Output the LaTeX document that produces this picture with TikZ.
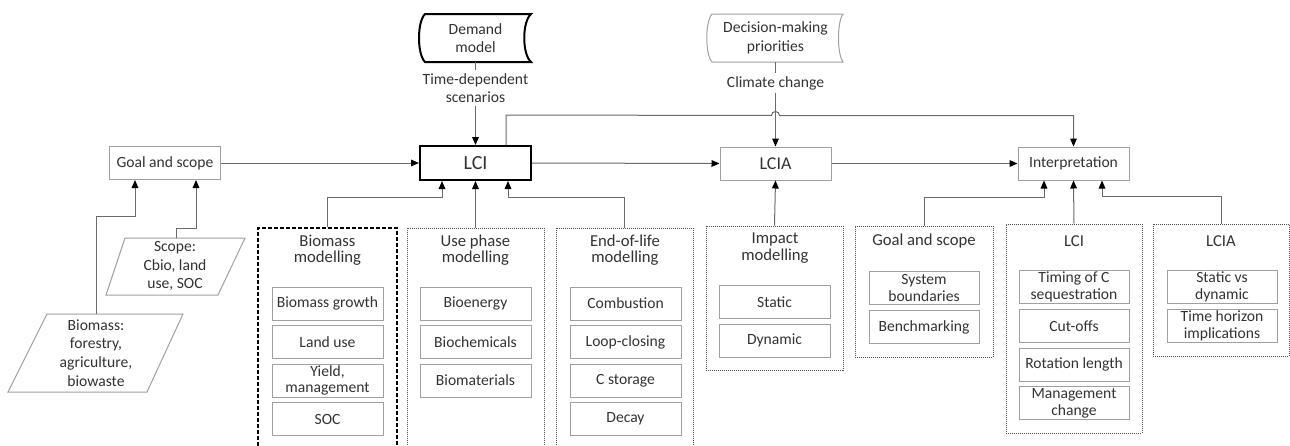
\documentclass[tikz,border=0pt]{standalone}
\usepackage{fontspec}
\setmainfont{Carlito}
\usetikzlibrary{arrows.meta,calc}
\definecolor{txt}{HTML}{333333}
\definecolor{lineg}{HTML}{6A6A6A}
\definecolor{bgray}{HTML}{A0A0A0}
\definecolor{dgray}{HTML}{505050}
\newcommand{\fsn}{\fontsize{11.7}{12.5}\selectfont}
\newcommand{\fsl}{\fontsize{11.7}{14}\selectfont}
\newcommand{\fsh}{\fontsize{12.5}{12.3}\selectfont}
\begin{document}
\begin{tikzpicture}[x=0.75pt,y=-0.75pt,
  every node/.style={text=txt},
  mainbox/.style={draw=bgray, line width=0.75pt, minimum width=83.25pt, minimum height=24.75pt, font=\fsn, inner sep=0pt},
  ib/.style={draw=bgray, line width=0.75pt, minimum width=82.5pt, minimum height=24.75pt, font=\fsn, align=center, inner sep=0pt},
  cont/.style={draw=dgray, line width=0.75pt, dash pattern=on 0.75pt off 0.75pt, inner sep=0pt},
  contthick/.style={draw=black, line width=1.6pt, dash pattern=on 3pt off 1.5pt, inner sep=0pt},
  head/.style={font=\fsh, align=center, inner sep=0pt},
  lbl/.style={font=\fsl, align=center, inner sep=2pt},
  para/.style={font=\fsl, align=center, inner sep=0pt},
  cn/.style={draw=lineg, line width=0.75pt},
  arr/.style={cn, -{Triangle[length=6pt,width=5pt,color=black]}}
]
\fill[white] (0,0) rectangle (1290,446);
\useasboundingbox (0,0) rectangle (1290,446);

% top shapes
\draw[line width=1.5pt] (425,14) -- (531,14) .. controls (522,22) and (522,54) .. (531,62) -- (425,62) .. controls (417,54) and (417,22) .. (425,14) -- cycle;
\node[font=\fsl, align=center, inner sep=0pt, minimum width=80pt, minimum height=36pt] (demand) at (475.5,38) {Demand\\model};
\draw[draw=bgray, line width=0.75pt] (712,14) -- (843,14) .. controls (837,22) and (837,54) .. (843,62) -- (712,62) .. controls (705,54) and (705,22) .. (712,14) -- cycle;
\node[font=\fsl, align=center, inner sep=0pt, minimum width=98pt, minimum height=36pt] (decision) at (775.5,38) {Decision-making\\priorities};
\node[lbl] (lbl1) at (475.5,88) {Time-dependent\\scenarios};
\node[lbl] (lbl2) at (775.5,83) {Climate change};

% main row
\node[mainbox] (gs1) at (165,163) {Goal and scope};
\node[draw=black, line width=1.5pt, minimum width=83.25pt, minimum height=25.5pt, inner sep=0pt, font=\fontsize{15}{18}\selectfont] (lci) at (475.5,163) {LCI};
\node[mainbox, font=\fontsize{13.5}{16}\selectfont] (lcia) at (775.5,163.5) {LCIA};
\node[mainbox] (interp) at (1073.5,163.5) {Interpretation};

% parallelograms
\draw[draw=bgray, line width=0.75pt] (125,238) -- (245,238) -- (218,295) -- (106,295) -- cycle;
\node[para] (scope) at (175,266) {Scope:\\Cbio, land\\use, SOC};
\coordinate (scopetop) at (176,238);
\draw[draw=bgray, line width=0.75pt] (47,314) -- (183,314) -- (147,392) -- (8,392) -- cycle;
\node[para] (bio) at (96,353) {Biomass:\\forestry,\\agriculture,\\biowaste};
\coordinate (biotop) at (96,314);

% containers
\node[contthick, minimum width=104.25pt, minimum height=166.5pt] (bmc) at (327.5,339) {};
\node[cont, minimum width=102.75pt, minimum height=166.5pt] (usec) at (475.5,339) {};
\node[cont, minimum width=102.75pt, minimum height=166.5pt] (eolc) at (624.5,339) {};
\node[cont, minimum width=102.75pt, minimum height=108pt] (impc) at (774.5,298) {};
\node[cont, minimum width=103.5pt, minimum height=98.25pt] (gs2c) at (924,291.5) {};
\node[cont, minimum width=102pt, minimum height=156.75pt] (lci2c) at (1074,328.5) {};
\node[cont, minimum width=102pt, minimum height=99pt] (lcia2c) at (1221,290) {};

% headers
\node[head] (h1) at (327.5,250) {Biomass\\modelling};
\node[head] (h2) at (475.5,250) {Use phase\\modelling};
\node[head] (h3) at (625,250) {End-of-life\\modelling};
\node[head] (h4) at (775,248) {Impact\\modelling};
\node[head] (h5) at (924,241) {Goal and scope};
\node[head] (h6) at (1074,241) {LCI};
\node[head] (h7) at (1221,241) {LCIA};

% inner boxes
\node[ib, minimum width=83.25pt] (b1) at (327.5,303.5) {Biomass growth};
\node[ib, minimum width=83.25pt] (b2) at (327.5,342) {Land use};
\node[ib, minimum width=83.25pt] (b3) at (327.5,380.5) {Yield,\\management};
\node[ib, minimum width=83.25pt] (b4) at (327.5,419) {SOC};
\node[ib, minimum width=83.25pt] (u1) at (475.5,303.5) {Bioenergy};
\node[ib, minimum width=83.25pt] (u2) at (475.5,342) {Biochemicals};
\node[ib, minimum width=83.25pt] (u3) at (475.5,380.5) {Biomaterials};
\node[ib, minimum width=83.25pt] (e1) at (625.5,303.5) {Combustion};
\node[ib, minimum width=83.25pt] (e2) at (625.5,342) {Loop-closing};
\node[ib, minimum width=83.25pt] (e3) at (625.5,380.5) {C storage};
\node[ib, minimum width=83.25pt] (e4) at (625.5,419) {Decay};
\node[ib, minimum width=83.25pt] (i1) at (774.5,302) {Static};
\node[ib, minimum width=83.25pt] (i2) at (774.5,340.5) {Dynamic};
\node[ib] (g1) at (924,288) {System\\boundaries};
\node[ib] (g2) at (924,327) {Benchmarking};
\node[ib] (l1) at (1074,287) {Timing of C\\sequestration};
\node[ib] (l2) at (1074,326) {Cut-offs};
\node[ib] (l3) at (1074,364.5) {Rotation length};
\node[ib] (l4) at (1074,403) {Management\\change};
\node[ib] (a1) at (1222,287) {Static vs\\dynamic};
\node[ib] (a2) at (1222,326) {Time horizon\\implications};

% connectors
\draw[cn] (demand.south) -- (lbl1.north);
\draw[arr] (lbl1.south) -- (lci.north);
\draw[cn] (decision.south) -- (lbl2.north);
\draw[arr] (lbl2.south) -- (lcia.north);
\draw[arr] (gs1.east) -- (lci.west);
\draw[arr] (lci.east) -- (lcia.west);
\draw[arr] (lcia.east) -- (interp.west);
\draw[arr] ($(lci.north)+(30.5,0)$) -- ($(lci.north)+(30.5,-30)$) -- ($(lcia.north)+(-4,-31)$) arc[start angle=180,end angle=360,radius=4] -| (interp.north);
\draw[arr] (bmc.north) |- ($(lci.south)+(-33.5,16)$) -- ($(lci.south)+(-33.5,0)$);
\draw[arr] (usec.north) -- (lci.south);
\draw[arr] (eolc.north) |- ($(lci.south)+(32.5,16)$) -- ($(lci.south)+(32.5,0)$);
\draw[arr] (impc.north) -- (lcia.south);
\draw[arr] (gs2c.north) |- ($(interp.south)+(-29.5,17)$) -- ($(interp.south)+(-29.5,0)$);
\draw[arr] (lci2c.north) -- (interp.south);
\draw[arr] (lcia2c.north) |- ($(interp.south)+(28.5,16)$) -- ($(interp.south)+(28.5,0)$);
\draw[arr] (biotop) |- ($(gs1.south)+(-30,36)$) -- ($(gs1.south)+(-30,0)$);
\draw[arr] (scopetop) |- ($(gs1.south)+(31,48)$) -- ($(gs1.south)+(31,0)$);
\end{tikzpicture}
\end{document}
